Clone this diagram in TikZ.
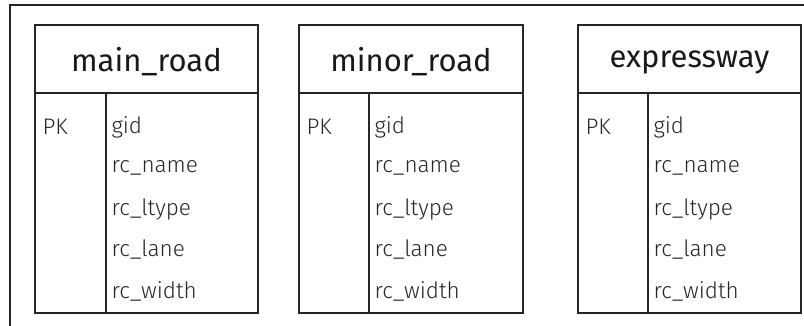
\documentclass[tikz,border=0pt]{standalone}
\usepackage{fontspec}
\setmainfont{Fira Sans Light}
\newfontfamily\titlefont{Fira Sans}
\begin{document}
\begin{tikzpicture}[x=1pt,y=-1pt,
  tbl/.style={draw=black!85,line width=2pt},
  frame/.style={draw=black!85,line width=1.5pt},
  ttl/.style={font=\titlefont\fontsize{31}{36}\selectfont,text=black!90},
  fld/.style={font=\fontsize{22.5}{26}\selectfont,text=black!85,anchor=west},
  pk/.style={font=\fontsize{22.5}{26}\selectfont,text=black!85,anchor=west}]
\useasboundingbox (0,0) rectangle (804,326);
\draw[frame] (10,340) -- (10,5) -- (820,5);
\foreach \n/\l/\d/\r/\t in {a/35/106/258/main\_road, b/299/369/523/minor\_road, c/578/648/801/expressway}{
  \draw[tbl] (\l,25) rectangle (\r,313);
  \draw[tbl] (\l,93) -- (\r,93);
  \draw[tbl] (\d,93) -- (\d,313);
  \node[ttl] (\n-title) at ({(\l+\r)/2},62) {\t};
  \node[pk] (\n-pk) at (\l+4,127) {PK};
  \node[fld] (\n-f1) at (\d+2,127) {gid};
  \node[fld] (\n-f2) at (\d+2,168) {rc\_name};
  \node[fld] (\n-f3) at (\d+2,209) {rc\_ltype};
  \node[fld] (\n-f4) at (\d+2,250) {rc\_lane};
  \node[fld] (\n-f5) at (\d+2,291) {rc\_width};
}
\end{tikzpicture}
\end{document}
